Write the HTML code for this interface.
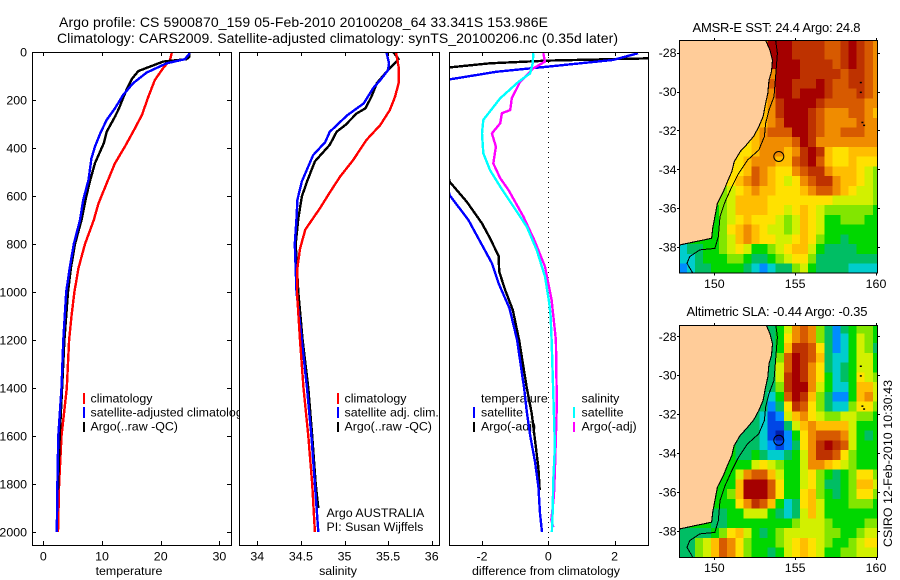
<!DOCTYPE html>
<html lang="en">
<head>
<meta charset="utf-8">
<title>Argo profile CS 5900870_159</title>
<style>
html,body{margin:0;padding:0;background:#fff;}
#chart{display:block;width:900px;height:580px;background:#fff;}
text{font-family:"Liberation Sans",Arial,sans-serif;font-size:12.4px;fill:#000;}
.title{font-size:14px;}
.map-title{font-size:13px;}
</style>
</head>
<body>
<svg id="chart" xmlns="http://www.w3.org/2000/svg" width="900" height="580" viewBox="0 0 900 580">
  <text class="title" x="59" y="27" textLength="489" lengthAdjust="spacing">Argo profile: CS 5900870_159 05-Feb-2010 20100208_64 33.341S 153.986E</text>
  <text class="title" x="57" y="43" textLength="561" lengthAdjust="spacing">Climatology: CARS2009. Satellite-adjusted climatology: synTS_20100206.nc (0.35d later)</text>

  <defs>
    <clipPath id="clip-p1"><rect x="32" y="52" width="199" height="493"/></clipPath>
    <clipPath id="clip-p2"><rect x="240" y="52" width="199" height="493"/></clipPath>
    <clipPath id="clip-p3"><rect x="449" y="52" width="199" height="493"/></clipPath>
    <clipPath id="clip-m1"><rect x="679" y="40" width="198" height="233"/></clipPath>
    <clipPath id="clip-m2"><rect x="679" y="325" width="198" height="232"/></clipPath>
  </defs>

  <g id="panel-temp">
    <g id="temp-legend">
      <rect x="83" y="393" width="2" height="11" fill="#f00"/>
      <rect x="83" y="407" width="2" height="11" fill="#00f"/>
      <rect x="83" y="422" width="2" height="10" fill="#000"/>
      <text x="90.5" y="402.5">climatology</text>
      <text x="90.5" y="416.5">satellite-adjusted climatology</text>
      <text x="90.5" y="430.5">Argo(..raw -QC)</text>
    </g>
    <g id="temp-lines" clip-path="url(#clip-p1)"></g>
    <g id="temp-axes"></g>
    <text x="129" y="575" text-anchor="middle">temperature</text>
  </g>

  <g id="panel-sal">
    <rect x="239" y="52" width="200" height="493" fill="#fff"/>
    <g id="sal-legend">
      <rect x="337" y="393" width="2" height="11" fill="#f00"/>
      <rect x="337" y="407" width="2" height="11" fill="#00f"/>
      <rect x="337" y="422" width="2" height="10" fill="#000"/>
      <text x="344.5" y="402.5">climatology</text>
      <text x="344.5" y="416.5">satellite adj. clim.</text>
      <text x="344.5" y="430.5">Argo(..raw -QC)</text>
      <text x="326.5" y="517">Argo AUSTRALIA</text>
      <text x="326.5" y="531">PI: Susan Wijffels</text>
    </g>
    <g id="sal-lines" clip-path="url(#clip-p2)"></g>
    <g id="sal-axes"></g>
    <text x="338" y="575" text-anchor="middle">salinity</text>
  </g>

  <g id="panel-diff">
    <g id="diff-legend">
      <text x="481" y="402.5">temperature</text>
      <text x="481" y="416.5">satellite</text>
      <text x="481" y="430.5">Argo(-adj)</text>
      <rect x="473" y="407" width="2" height="11" fill="#00f"/>
      <rect x="473" y="422" width="2" height="10" fill="#000"/>
      <text x="581.5" y="402.5">salinity</text>
      <text x="581.5" y="416.5">satellite</text>
      <text x="581.5" y="430.5">Argo(-adj)</text>
      <rect x="573" y="407" width="2" height="11" fill="#0ff"/>
      <rect x="573" y="422" width="2" height="10" fill="#f0f"/>
    </g>
    <g id="diff-lines" clip-path="url(#clip-p3)"></g>
    <g id="diff-axes"></g>
    <text x="546" y="575" text-anchor="middle" textLength="148" lengthAdjust="spacing">difference from climatology</text>
  </g>

  <g id="map-sst"></g>
  <text class="map-title" x="692.5" y="32" textLength="168" lengthAdjust="spacing">AMSR-E SST: 24.4 Argo: 24.8</text>
  <g id="map-sla"></g>
  <text class="map-title" x="686.5" y="316" textLength="181" lengthAdjust="spacing">Altimetric SLA: -0.44 Argo: -0.35</text>
  <text transform="translate(892 547) rotate(-90)" textLength="167" lengthAdjust="spacing">CSIRO 12-Feb-2010 10:30:43</text>
</svg>

<script>
/* ---------- profile data: depth (m) and value pairs ---------- */
const tempClimDepth = [0,33,68,117,186,263,332,394,464,547,631,700,800,900,1000,1100,1200,1400,1600,1800,2000];
const tempClimValue = [21.9,21.6,20.4,19,17.9,16.8,15.3,13.9,12.2,10.8,9.4,8.6,7.1,6.0,5.3,4.8,4.4,4.0,3.1,2.7,2.5];
const tempArgoDepth = [0,19,30,40,58,79,112,156,186,235,270,332,380,463,533,603,700,800,900,1000,1200,1400,1600,1825];
const tempArgoValue = [24.8,24.9,24.4,20.4,18.5,16.2,15.1,14.2,13.7,12.9,12.2,10.8,10.3,8.8,8,7.3,6.5,5.4,4.7,4.2,3.6,3.2,2.8,2.5];
const tempSatDepth = [0,10,30,47,86,130,179,235,283,339,394,444,533,617,700,800,900,1000,1200,1400,1600,1800,2000];
const tempSatValue = [24.9,24.8,24.1,21,17.6,15.3,13.6,12.2,10.8,9.7,8.8,8.2,7.7,6.8,6.25,5.2,4.5,3.9,3.4,3.1,2.55,2.4,2.3];

const salClimDepth = [0,62,130,186,242,304,367,450,519,586,650,740,820,900,1000,1200,1400,1600,1800,2000];
const salClimValue = [35.59,35.62,35.62,35.58,35.52,35.41,35.25,35.10,34.95,34.83,34.72,34.55,34.49,34.46,34.455,34.49,34.53,34.585,34.63,34.66];
const salArgoDepth = [0,30,75,130,186,235,256,304,332,387,456,540,603,694,800,1000,1200,1400,1600,1800,1900];
const salArgoValue = [35.56,35.62,35.50,35.37,35.31,35.24,35.14,35.01,34.91,34.83,34.66,34.57,34.51,34.47,34.44,34.47,34.52,34.585,34.63,34.67,34.70];
const salSatDepth = [0,47,75,117,150,214,264,333,375,430,540,616,694,800,1000,1200,1400,1600,1800,2000];
const salSatValue = [35.48,35.51,35.50,35.41,35.33,35.22,35.03,34.83,34.78,34.64,34.51,34.46,34.45,34.43,34.45,34.51,34.57,34.62,34.66,34.70];

const diffTempArgoDepth = [26,36,47,64,80,540,624,714,776,850,915,992,1075,1200,1400,1505,1617,1733,1825];
const diffTempArgoValue = [3.2,0,-1.76,-2.98,-3.6,-2.98,-2.46,-2.0,-1.76,-1.5,-1.48,-1.3,-1.07,-0.88,-0.65,-0.5,-0.4,-0.3,-0.26];
const diffTempSatDepth = [5,33,61,82,114,130,596,700,804,880,964,1068,1200,1400,1499,1596,1707,1811,1922,2000];
const diffTempSatValue = [2.71,1.96,0,-1.55,-2.98,-3.6,-2.98,-2.41,-2,-1.7,-1.5,-1.17,-0.94,-0.73,-0.65,-0.55,-0.4,-0.3,-0.25,-0.19];
const diffSalSatDepth = [5,47,89,124,193,283,339,422,492,561,644,728,825,936,1047,1100,1200,1505,1644,1783,1922,2000];
const diffSalSatValue = [-0.45,-0.47,-0.55,-0.9,-1.45,-1.96,-2,-1.96,-1.76,-1.45,-1.05,-0.65,-0.35,-0.1,0.03,0.07,0.1,0.17,0.2,0.15,0.13,0.11];
const diffSalArgoDepth = [5,40,68,124,193,242,255,297,339,394,464,526,575,686,790,894,1033,1200,1400,1500,1744,1850,1950,1980];
const diffSalArgoValue = [-0.15,-0.1,-0.45,-0.85,-1.1,-1.15,-1.4,-1.45,-1.7,-1.58,-1.66,-1.45,-1.2,-0.75,-0.4,-0.1,0.1,0.23,0.25,0.25,0.2,0.17,0.09,0.15];

/* ---------- tick labels ---------- */
const depthTicks = [0,200,400,600,800,1000,1200,1400,1600,1800,2000];
const tempTicks = [0,10,20,30];
const salTicks = [34,34.5,35,35.5,36];
const diffTicks = [-2,0,2];
const lonTicks = [150,155,160];
const latTicks = [-28,-30,-32,-34,-36,-38];
const argoLon = 153.986;
const argoLat = -33.341;

/* ---------- coastline, 2000 m isobath and islands (lon, lat) ---------- */
const coastLon = [153.17,153.44,153.60,153.54,153.38,153.31,153.17,153.02,152.75,152.44,151.98,151.60,151.23,151.08,150.81,150.56,150.19,150.04,149.90,149.83,148.79,147.81];
const coastLat = [-27.35,-27.86,-28.38,-28.98,-29.41,-30.09,-30.61,-31.29,-31.81,-32.29,-32.75,-33.09,-33.61,-34.12,-34.64,-35.15,-35.75,-36.44,-37.04,-37.55,-37.73,-37.90];
const isobathLon = [153.79,153.90,153.79,153.69,153.38,153.17,153.10,152.75,152.06,151.50,151.08,150.67,150.35,150.25,150.04,149.10,148.48,148.31,148.65];
const isobathLat = [-27.35,-28.03,-29.23,-30.26,-30.95,-31.64,-32.32,-33.01,-33.52,-34.21,-34.90,-35.67,-36.44,-37.47,-38.07,-38.15,-38.50,-38.84,-39.32];
const islandLon = [159.0,159.0,159.1,159.2];
const islandLat = [-29.5,-30.0,-31.55,-31.7];

/* ---------- gridded map levels, 0.5 degree cells, north to south ---------- */
const sstGrid = [
[6,6,6,6,6,6,6,6,6,6,6,11,11,11,10,10,10,10,9,9,10,11,10,9,8],
[6,6,6,6,6,6,6,6,6,6,6,11,11,11,10,10,10,10,9,9,10,11,10,9,8],
[6,6,6,6,6,6,6,6,6,6,6,11,11,11,11,10,10,10,10,9,10,11,10,9,8],
[6,6,6,6,6,6,6,6,6,6,6,8,11,11,11,10,10,10,10,10,9,10,10,9,8],
[6,6,6,6,6,6,6,6,6,6,6,9,11,11,10,10,10,11,10,9,9,10,10,9,8],
[6,6,6,6,6,6,6,6,6,6,6,8,11,11,10,11,11,11,10,9,9,9,10,9,8],
[6,6,6,6,6,6,6,6,6,6,7,8,10,11,11,11,11,10,9,9,9,9,9,8,8],
[6,6,6,6,6,6,6,6,6,6,7,8,10,11,11,11,10,9,8,8,8,9,9,8,7],
[6,6,6,6,6,6,6,6,6,7,7,8,9,11,11,11,10,9,8,8,8,8,9,8,8],
[6,6,6,6,6,6,6,6,6,7,8,9,9,9,11,11,10,9,8,8,9,9,9,8,8],
[6,6,6,6,6,6,6,6,6,7,8,8,8,8,9,11,10,8,8,8,8,8,8,8,8],
[6,6,6,6,6,6,6,6,6,7,8,8,8,7,8,10,11,10,7,6,6,7,7,7,7],
[6,6,6,6,6,6,6,6,7,8,8,8,7,7,9,10,11,9,7,6,6,7,6,6,6],
[6,6,6,6,6,6,6,6,7,9,8,7,6,6,8,9,10,10,8,7,7,7,6,5,4],
[6,6,6,6,6,6,6,7,8,9,8,7,6,5,6,8,9,10,10,8,7,7,6,5,4],
[4,4,4,4,4,4,5,6,7,8,7,7,6,6,6,7,8,9,9,8,7,6,5,5,4],
[4,4,4,4,4,4,5,7,7,7,7,6,6,6,6,6,6,6,6,5,5,5,5,5,4],
[3,3,3,3,3,4,5,7,7,7,7,6,6,5,6,7,6,5,4,4,4,4,4,4,3],
[3,3,3,3,3,4,5,6,7,6,6,6,5,4,5,7,6,5,3,3,4,4,4,3,3],
[3,3,3,3,3,4,6,7,8,7,6,5,5,4,5,7,6,5,3,3,3,3,3,3,3],
[3,3,3,3,3,4,5,7,8,7,6,6,5,5,6,7,6,4,3,3,2,3,3,3,3],
[1,2,2,3,3,4,5,6,5,3,3,4,5,6,7,7,5,3,2,2,2,2,3,3,3],
[1,1,2,3,3,3,4,4,3,2,2,3,4,5,6,6,4,2,2,2,2,2,2,2,2],
[0,1,2,2,3,3,3,3,2,1,0,1,2,2,4,5,3,2,2,2,2,1,1,1,1]
];
const slaGrid = [
[3,3,3,3,3,3,3,3,3,3,3,2,3,5,8,9,8,4,2,0,2,3,4,4,3],
[3,3,3,3,3,3,3,3,3,3,3,2,3,6,8,9,8,4,2,0,1,3,5,4,3],
[3,3,3,3,3,3,3,3,3,3,3,2,3,7,10,10,9,6,2,0,1,3,5,4,2],
[3,3,3,3,3,3,3,3,3,3,3,2,4,9,11,10,9,7,2,1,1,3,5,5,3],
[3,3,3,3,3,3,3,3,3,3,2,2,5,9,11,10,8,6,2,1,2,3,5,5,3],
[3,3,3,3,3,3,3,3,3,3,2,2,5,10,11,10,8,6,3,1,2,3,6,5,4],
[3,3,3,3,3,3,3,3,3,3,2,2,4,10,11,11,8,5,3,1,1,3,7,7,5],
[3,3,3,3,3,3,3,3,3,3,2,1,3,9,11,10,7,4,2,0,0,3,7,8,5],
[3,3,3,3,3,3,3,3,3,2,2,0,2,6,10,9,6,4,2,1,1,4,6,6,4],
[3,3,3,3,3,3,3,3,2,2,1,-1,0,5,7,8,6,5,4,4,5,5,4,4,3],
[3,3,3,3,3,3,3,3,2,2,1,-1,-1,2,5,7,8,7,7,7,7,5,3,3,3],
[3,3,3,3,3,3,3,2,2,2,1,-1,-2,0,3,6,8,9,9,9,8,5,3,2,3],
[3,3,3,3,3,3,3,2,2,2,1,0,-1,0,2,6,8,10,11,10,9,5,3,3,3],
[3,3,3,3,3,3,3,2,2,3,2,1,1,2,3,5,8,10,10,9,6,4,3,3,3],
[3,3,3,3,3,3,3,3,3,5,6,5,4,3,3,5,8,8,7,6,5,4,3,3,3],
[3,3,3,3,3,3,3,5,8,9,9,7,5,3,3,5,6,4,3,2,3,4,6,6,4],
[3,3,3,3,3,3,3,7,11,11,11,9,6,3,3,5,6,4,2,2,3,4,7,7,5],
[3,3,3,3,3,3,4,7,11,11,11,9,6,3,3,6,7,4,3,2,3,4,6,6,4],
[3,3,3,3,3,3,3,6,8,10,9,7,3,1,2,6,7,5,3,3,3,4,4,4,3],
[3,3,3,3,2,2,3,3,5,5,5,3,2,1,2,5,7,5,3,3,3,3,3,3,3],
[3,3,3,3,2,2,3,3,3,3,3,3,3,3,4,5,5,5,4,3,3,3,3,4,4],
[2,2,2,2,3,4,6,7,5,3,2,3,4,5,5,5,5,5,4,4,3,3,4,5,5],
[2,2,4,5,7,9,8,6,4,3,3,3,4,5,6,7,6,5,4,3,3,4,5,6,6],
[2,2,4,5,7,9,8,6,4,3,3,2,3,5,6,7,6,5,3,3,4,4,5,5,5]
];
const mapCellDeg = 0.5;
const mapLonStart = 147.8;
const mapLatStart = -27.35;

/* ---------- colour ramp ---------- */
function levelColor(v){
  const stops = {'-2':'#001eaa','-1':'#0046e6','0':'#008cff','1':'#00cdcd','2':'#00be64','3':'#00d700','4':'#82e600','5':'#d2f000','6':'#ffe100','7':'#ffbe00','8':'#f08c00','9':'#d75a00','10':'#be3200','11':'#a50000'};
  return stops[String(Math.round(v))] || '#a50000';
}

/* ---------- helpers ---------- */
const NS = 'http://www.w3.org/2000/svg';
function svgEl(tag, attrs, parent){
  const el = document.createElementNS(NS, tag);
  for (const k in attrs) el.setAttribute(k, attrs[k]);
  parent.appendChild(el);
  return el;
}
function linear(d0, d1, r0, r1){ return v => r0 + (v - d0) * (r1 - r0) / (d1 - d0); }
const depthY = linear(0, 2000, 52, 532);
const tempX = linear(0, 30, 43.3, 219.4);
const salX = linear(34, 36, 257.3, 431.7);
const diffX = linear(-2, 2, 482, 614.6);

function drawProfile(parent, xFn, depths, values, color, name){
  const pts = depths.map((d, i) => xFn(values[i]).toFixed(1) + ',' + depthY(d).toFixed(1)).join(' ');
  const el = svgEl('polyline', {points: pts, fill: 'none', stroke: color, 'stroke-width': 2.4, 'stroke-linejoin': 'round', 'shape-rendering': 'crispEdges'}, parent);
  
  
}

function drawAxes(parent, box, xFn, xTicks, withDepth, prefix){
  const frame = svgEl('rect', {x: box.x + 0.5, y: box.y + 0.5, width: box.w, height: box.h, fill: 'none', stroke: '#000', 'stroke-width': 1, 'shape-rendering': 'crispEdges'}, parent);
  
  
  xTicks.forEach(t => {
    const px = Math.round(xFn(t)) + 0.5;
    const tickTop = svgEl('line', {x1: px, x2: px, y1: box.y, y2: box.y + 4, stroke: '#000', 'shape-rendering': 'crispEdges'}, parent);
    
    
    const tickBot = svgEl('line', {x1: px, x2: px, y1: box.y + box.h - 4, y2: box.y + box.h, stroke: '#000', 'shape-rendering': 'crispEdges'}, parent);
    
    
    const lab = svgEl('text', {x: xFn(t), y: 560.5, 'text-anchor': 'middle'}, parent);
    
    
    lab.textContent = String(t);
  });
  if (withDepth) {
    depthTicks.forEach(d => {
      const py = Math.round(depthY(d)) + 0.5;
      const l = svgEl('line', {x1: box.x, x2: box.x + 4, y1: py, y2: py, stroke: '#000', 'shape-rendering': 'crispEdges'}, parent);
      
      
      const r = svgEl('line', {x1: box.x + box.w - 4, x2: box.x + box.w, y1: py, y2: py, stroke: '#000', 'shape-rendering': 'crispEdges'}, parent);
      
      
      const lab = svgEl('text', {x: 27, y: depthY(d) + 4.5, 'text-anchor': 'end'}, parent);
      
      
      lab.textContent = String(d);
    });
  }
}

/* ---------- profile panels ---------- */
const tempLines = document.getElementById('temp-lines');
drawProfile(tempLines, tempX, tempClimDepth, tempClimValue, '#f00', 'temperature-climatology-line');
drawProfile(tempLines, tempX, tempArgoDepth, tempArgoValue, '#000', 'temperature-argo-line');
drawProfile(tempLines, tempX, tempSatDepth, tempSatValue, '#00f', 'temperature-satellite-line');
drawAxes(document.getElementById('temp-axes'), {x: 32, y: 52, w: 199, h: 493}, tempX, tempTicks, true, 'temperature');

const salLines = document.getElementById('sal-lines');
drawProfile(salLines, salX, salArgoDepth, salArgoValue, '#000', 'salinity-argo-line');
drawProfile(salLines, salX, salSatDepth, salSatValue, '#00f', 'salinity-satellite-line');
drawProfile(salLines, salX, salClimDepth, salClimValue, '#f00', 'salinity-climatology-line');
drawAxes(document.getElementById('sal-axes'), {x: 239, y: 52, w: 200, h: 493}, salX, salTicks, false, 'salinity');

const diffLines = document.getElementById('diff-lines');
const zeroLine = svgEl('line', {x1: Math.round(diffX(0)) + 0.5, x2: Math.round(diffX(0)) + 0.5, y1: 52, y2: 545, stroke: '#000', 'stroke-width': 1, 'stroke-dasharray': '1 4', 'shape-rendering': 'crispEdges'}, diffLines);


drawProfile(diffLines, diffX, diffTempArgoDepth, diffTempArgoValue, '#000', 'difference-temperature-argo-line');
drawProfile(diffLines, diffX, diffTempSatDepth, diffTempSatValue, '#00f', 'difference-temperature-satellite-line');
drawProfile(diffLines, diffX, diffSalArgoDepth, diffSalArgoValue, '#f0f', 'difference-salinity-argo-line');
drawProfile(diffLines, diffX, diffSalSatDepth, diffSalSatValue, '#0ff', 'difference-salinity-satellite-line');
drawAxes(document.getElementById('diff-axes'), {x: 449, y: 52, w: 199, h: 493}, diffX, diffTicks, false, 'difference');

/* ---------- maps ---------- */
function drawMap(gId, clipId, grid, top, lat28Y, lat38Y, bottom, labelY, prefix){
  const g = document.getElementById(gId);
  const lonX = linear(150, 160, 714.3, 876);
  const latY = linear(-28, -38, lat28Y, lat38Y);
  const body = svgEl('g', {'clip-path': 'url(#' + clipId + ')'}, g);
  grid.forEach((row, j) => {
    row.forEach((v, i) => {
      const x0 = lonX(mapLonStart + i * mapCellDeg);
      const x1 = lonX(mapLonStart + (i + 1) * mapCellDeg);
      const y0 = latY(mapLatStart - j * mapCellDeg);
      const y1 = latY(mapLatStart - (j + 1) * mapCellDeg);
      const cell = svgEl('rect', {x: x0.toFixed(1), y: y0.toFixed(1), width: (x1 - x0 + 0.6).toFixed(1), height: (y1 - y0 + 0.6).toFixed(1), fill: levelColor(v), 'shape-rendering': 'crispEdges'}, body);
      
      
    });
  });
  const coastPts = coastLon.map((lo, i) => lonX(lo).toFixed(1) + ',' + latY(coastLat[i]).toFixed(1));
  const landPts = coastPts.concat([lonX(147.7).toFixed(1) + ',' + latY(-37.9).toFixed(1), lonX(147.7).toFixed(1) + ',' + (top - 2), lonX(coastLon[0]).toFixed(1) + ',' + (top - 2)]);
  const land = svgEl('polygon', {points: landPts.join(' '), fill: '#ffcc99', stroke: '#000', 'stroke-width': 1.1, 'shape-rendering': 'crispEdges'}, body);
  
  
  const iso = svgEl('polyline', {points: isobathLon.map((lo, i) => lonX(lo).toFixed(1) + ',' + latY(isobathLat[i]).toFixed(1)).join(' '), fill: 'none', stroke: '#000', 'stroke-width': 1, 'shape-rendering': 'crispEdges'}, body);
  
  
  islandLon.forEach((lo, i) => {
    const dot = svgEl('rect', {x: lonX(lo).toFixed(1), y: latY(islandLat[i]).toFixed(1), width: 2, height: 1.5, fill: '#000'}, body);
    
    
  });
  const marker = svgEl('circle', {cx: lonX(argoLon).toFixed(1), cy: latY(argoLat).toFixed(1), r: 5, fill: 'none', stroke: '#000', 'stroke-width': 1}, body);
  
  
  const frame = svgEl('rect', {x: 679.5, y: top + 0.5, width: 198, height: bottom - top, fill: 'none', stroke: '#000', 'stroke-width': 1, 'shape-rendering': 'crispEdges'}, g);
  
  
  lonTicks.forEach(t => {
    const px = Math.round(lonX(t)) + 0.5;
    const a = svgEl('line', {x1: px, x2: px, y1: top - 2, y2: top, stroke: '#000', 'shape-rendering': 'crispEdges'}, g);
    
    
    const b = svgEl('line', {x1: px, x2: px, y1: bottom + 1, y2: bottom + 3, stroke: '#000', 'shape-rendering': 'crispEdges'}, g);
    
    
    const lab = svgEl('text', {x: lonX(t), y: labelY, 'text-anchor': 'middle'}, g);
    
    
    lab.textContent = String(t);
  });
  latTicks.forEach(t => {
    const py = Math.round(latY(t)) + 0.5;
    const a = svgEl('line', {x1: 677, x2: 679, y1: py, y2: py, stroke: '#000', 'shape-rendering': 'crispEdges'}, g);
    
    
    const b = svgEl('line', {x1: 878, x2: 880, y1: py, y2: py, stroke: '#000', 'shape-rendering': 'crispEdges'}, g);
    
    
    const lab = svgEl('text', {x: 676.5, y: latY(t) + 4.5, 'text-anchor': 'end'}, g);
    
    
    lab.textContent = String(t);
  });
}
drawMap('map-sst', 'clip-m1', sstGrid, 40, 52.7, 247, 272.5, 288, 'sst');
drawMap('map-sla', 'clip-m2', slaGrid, 325, 336.3, 531, 557, 572, 'sla');
</script>
</body>
</html>
